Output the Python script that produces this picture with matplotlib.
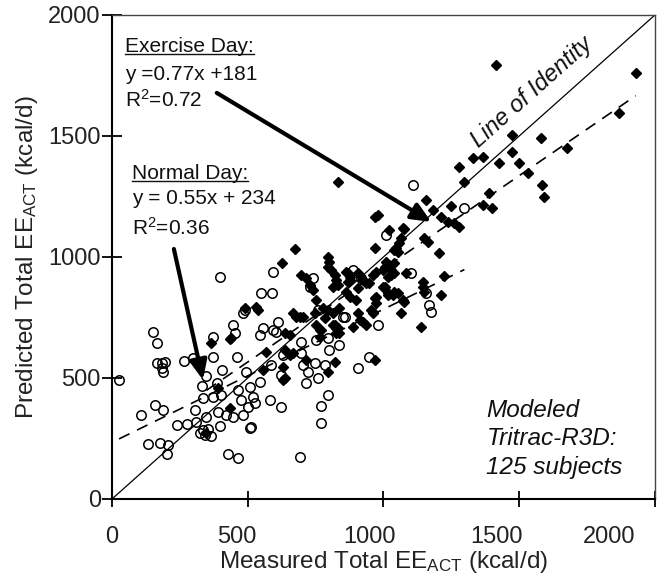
import matplotlib
matplotlib.use("Agg")
import matplotlib.pyplot as plt
from matplotlib.lines import Line2D
from matplotlib.transforms import IdentityTransform, ScaledTranslation

plt.rcParams['font.family'] = ['Liberation Sans', 'DejaVu Sans']
plt.rcParams['mathtext.fontset'] = 'custom'
plt.rcParams['mathtext.rm'] = 'Liberation Sans'
plt.rcParams['mathtext.it'] = 'Liberation Sans:italic'
plt.rcParams['mathtext.default'] = 'regular'

# normal day (open circles): measured, predicted (kcal/d)
normal_x = [152, 164, 164, 183, 195, 183, 188, 265, 299, 372, 462, 407, 26, 332, 348, 385,
            336, 372, 403, 158, 188, 107, 305, 348, 391, 238, 275, 311, 397, 323, 342, 364,
            334, 353, 134, 176, 207, 201, 428, 464, 446, 452, 372, 495, 507, 464, 476, 501,
            483, 513, 421, 446, 489, 611, 556, 593, 605, 544, 697, 752, 795, 801, 838, 857,
            979, 587, 630, 697, 703, 746, 783, 722, 624, 715, 758, 544, 519, 526, 581, 624,
            507, 691, 795, 771, 771, 905, 948, 397, 593, 550, 590, 483, 740, 728, 887, 1010,
            1108, 1298, 1101, 1157, 1169, 1175, 918, 850, 758]
normal_y = [689, 646, 563, 561, 567, 540, 526, 570, 584, 585, 585, 533, 492, 467, 508, 478,
            416, 423, 430, 388, 368, 347, 368, 340, 361, 306, 310, 319, 302, 273, 264, 260,
            285, 289, 227, 233, 223, 186, 186, 168, 719, 685, 671, 526, 464, 450, 409, 381,
            347, 299, 347, 340, 781, 733, 705, 698, 691, 678, 650, 657, 664, 616, 636, 753,
            719, 554, 595, 602, 554, 561, 554, 526, 512, 478, 499, 485, 423, 395, 409, 381,
            292, 175, 430, 384, 315, 540, 588, 919, 940, 850, 850, 767, 912, 877, 946, 1091,
            1297, 1201, 933, 850, 802, 774, 912, 753, 781]

# exercise day (filled diamonds)
exercise_x = [1414, 1929, 1867, 1475, 1579, 1677, 1475, 1500, 1531, 1426, 1328, 1365, 1279,
              1298, 1585, 1592, 1157, 1181, 1401, 1365, 1249, 1390, 1212, 1236, 1261, 1279,
              967, 1022, 1077, 1065, 1151, 1163, 967, 1046, 1052, 1206, 1010, 1004, 1022,
              1028, 1040, 973, 960, 1083, 1224, 1144, 1144, 1212, 1138, 1004, 1016, 1034,
              1052, 967, 973, 1071, 1065, 960, 967, 832, 979, 673, 627, 795, 801, 795, 808,
              820, 826, 832, 697, 715, 728, 869, 875, 997, 1016, 906, 936, 973, 997, 531,
              489, 538, 667, 679, 691, 440, 654, 366, 746, 771, 820, 832, 887, 924, 936, 960,
              569, 636, 667, 715, 556, 630, 636, 795, 820, 765, 1071, 1059, 1040, 863, 875,
              869, 906, 924, 948, 1022, 1040, 1028, 1151, 740, 752, 813, 863, 875, 899, 1016,
              1040, 1077, 703, 777, 795, 813, 783, 813, 826, 906, 912, 954, 752, 765, 838,
              391, 434, 434, 348, 636, 630, 654, 838, 826]
exercise_y = [1793, 1759, 1593, 1504, 1490, 1449, 1435, 1387, 1346, 1387, 1408, 1415, 1373,
              1311, 1297, 1249, 1235, 1194, 1201, 1215, 1211, 1263, 1167, 1146, 1139, 1125,
              1167, 1111, 1114, 1077, 1077, 1063, 1036, 1036, 1022, 1015, 981, 960, 960,
              946, 933, 939, 926, 933, 921, 898, 877, 843, 712, 877, 843, 843,
              850, 829, 809, 822, 767, 774, 574, 1311, 1173, 1031, 977, 1001, 981, 960, 946,
              926, 905, 884, 926, 912, 884, 933, 905, 946, 919, 870, 891, 836, 877, 795,
              788, 781, 767, 753, 753, 664, 678, 643, 767, 698, 719, 705, 712, 733, 719, 767,
              609, 616, 602, 574, 533, 547, 499, 526, 567, 671, 1118, 1056, 1029, 939, 919,
              898, 933, 905, 891, 967, 974, 926, 857, 864, 822, 877, 857, 836, 822, 850,
              857, 815, 753, 788, 781, 767, 746, 719, 705, 767, 740, 781, 719, 698, 685,
              457, 375, 660, 271, 685, 492, 595, 788, 685]

# regression fits shown in the figure
ex_slope, ex_icpt = 0.77, 181
nd_slope, nd_icpt = 0.55, 234

ticks = [0, 500, 1000, 1500, 2000]
# the original x tick labels sit a little left of their ticks (pixels)
xlabel_shift = [0, -11, -14, -23, -46]

fig = plt.figure(figsize=(6.65, 5.76), dpi=100)
ax = fig.add_axes([0.1684, 0.1337, 0.8165, 0.8403])

ax.plot(normal_x, normal_y, 'o', ms=6.8, mfc='none', mec='black', mew=1.1, zorder=3)
ax.plot(exercise_x, exercise_y, 'D', ms=4.8, color='black', zorder=4)

# line of identity
ax.plot([0, 2000], [0, 2000], color='black', lw=0.9, zorder=2)

# regression lines
ex_lo, ex_hi = min(exercise_x), max(exercise_x)
nd_lo, nd_hi = min(normal_x), max(normal_x)
ax.plot([ex_lo, ex_hi], [ex_slope * ex_lo + ex_icpt, ex_slope * ex_hi + ex_icpt],
        color='black', lw=1.2, dashes=(7, 5), zorder=2)
ax.plot([nd_lo, nd_hi], [nd_slope * nd_lo + nd_icpt, nd_slope * nd_hi + nd_icpt],
        color='black', lw=1.2, dashes=(7, 5), zorder=2)

ax.set_xlim(0, 2000)
ax.set_ylim(0, 2000)
ax.set_xticks(ticks)
ax.set_yticks(ticks)
ax.tick_params(axis='x', direction='inout', length=11, width=1.3, labelsize=17, pad=14,
               colors='black', labelcolor='#222222')
ax.tick_params(axis='y', direction='inout', length=14, width=1.3, labelsize=17, pad=1,
               colors='black', labelcolor='#222222')
for lab, dx in zip(ax.get_xticklabels(), xlabel_shift):
    lab.set_transform(lab.get_transform() + ScaledTranslation(dx / 100, 0, fig.dpi_scale_trans))
for s in ['left', 'bottom']:
    ax.spines[s].set_linewidth(1.5)
for s in ['top', 'right']:
    ax.spines[s].set_linewidth(1.0)
    ax.spines[s].set_color('#444444')

ax.set_xlabel('Measured Total EE$_{ACT}$ (kcal/d)', fontsize=17.5, color='#222222', labelpad=1)
ax.set_ylabel('Predicted Total EE$_{ACT}$ (kcal/d)', fontsize=17.5, color='#222222', labelpad=6)

# annotations
txt_kw = dict(fontsize=15, color='#111111', ha='left', va='center')
t_ex = ax.text(48, 1868, 'Exercise Day:', **txt_kw)
ax.text(48, 1756, 'y =0.77x +181', **txt_kw)
ax.text(48, 1649, 'R$^2$=0.72', **txt_kw)
t_nd = ax.text(72, 1347, 'Normal Day:', **txt_kw)
ax.text(72, 1240, 'y = 0.55x + 234', **txt_kw)
ax.text(72, 1120, 'R$^2$=0.36', **txt_kw)

arrow_kw = dict(arrowstyle='-|>,head_length=0.45,head_width=0.2', color='black', lw=3,
                mutation_scale=26, shrinkA=0, shrinkB=0)
ax.annotate('', xy=(1176, 1145), xytext=(386, 1678), arrowprops=arrow_kw)
ax.annotate('', xy=(335, 492), xytext=(228, 1033), arrowprops=arrow_kw)

ax.text(1548, 1682, 'Line of Identity', fontsize=17, style='italic', color='#111111',
        rotation=45, transform_rotates_text=True, rotation_mode='anchor',
        ha='center', va='center')

ax.text(1379, 248, 'Modeled\nTritrac-R3D:\n125 subjects', fontsize=17.5, style='italic',
        color='#111111', ha='left', va='center', linespacing=1.3)

# underline the two headings
fig.canvas.draw()
for t in [t_ex, t_nd]:
    bb = t.get_window_extent()
    fig.add_artist(Line2D([bb.x0, bb.x1], [bb.y0 + 2, bb.y0 + 2], transform=IdentityTransform(),
                          color='#111111', lw=1.0))

fig.savefig('out.png', dpi=100)
